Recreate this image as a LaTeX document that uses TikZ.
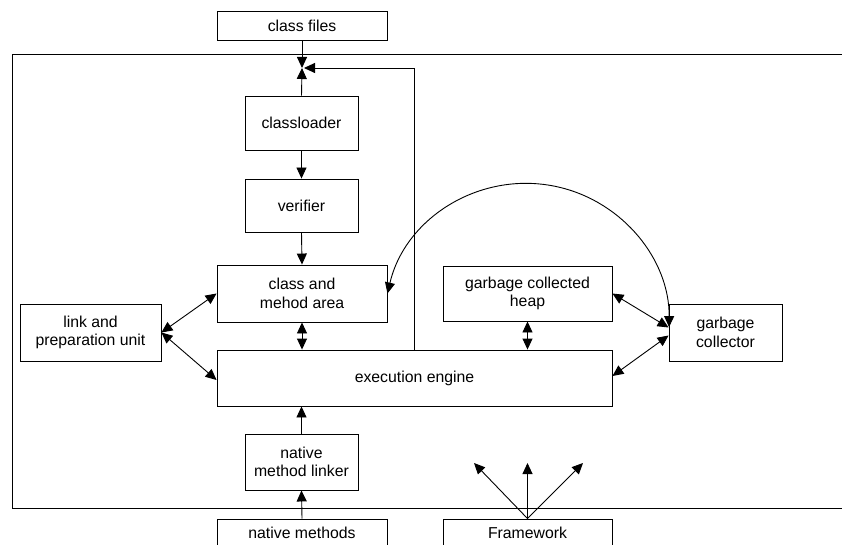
\documentclass[tikz,border=0pt]{standalone}
\usepackage{fontspec}
\setmainfont{Liberation Sans}
\usetikzlibrary{arrows.meta,calc}
\begin{document}
\begin{tikzpicture}[x=1pt,y=-1pt,
  box/.style={draw, line width=0.9pt, fill=white, inner sep=0pt, align=center,
    font=\fontsize{15.8}{18.5}\selectfont},
  line/.style={line width=0.9pt},
  arr/.style={line width=0.9pt, -{Triangle[length=11pt,width=10pt]}},
  dbl/.style={line width=0.9pt, {Triangle[length=11pt,width=10pt]}-{Triangle[length=11pt,width=10pt]}}
]
\useasboundingbox (0,0) rectangle (842,545);
\clip (0,0) rectangle (842,545);
% outer frame
\draw[line] (12,54) rectangle (880,508);
% nodes
\node[box, minimum width=170pt, minimum height=29pt] (cf) at (302,25.5) {class files};
\node[box, minimum width=113pt, minimum height=54pt] (cl) at (301.5,123) {classloader};
\node[box, minimum width=113pt, minimum height=53pt] (ver) at (301.5,205.5) {verifier};
\node[box, minimum width=170pt, minimum height=57pt] (cma) at (302,293.5) {class and\\mehod area};
\node[box, minimum width=141pt, minimum height=57pt] (lp) at (90.5,332.5) {link and\\preparation unit};
\node[box, minimum width=169pt, minimum height=55pt] (gch) at (527.5,293.5) {garbage collected\\heap};
\node[box, minimum width=113pt, minimum height=57pt] (gc) at (725.5,332.5) {garbage\\collector};
\node[box, minimum width=395pt, minimum height=56pt] (ee) at (414.5,378) {execution engine};
\node[box, minimum width=113pt, minimum height=56pt] (nml) at (301.5,462) {native\\method linker};
\node[box, minimum width=170pt, minimum height=28pt] (nm) at (302,533) {native methods};
\node[box, minimum width=169pt, minimum height=28pt] (fw) at (527.5,533) {Framework};
% junction coordinates
\coordinate (J) at (302,68);
\coordinate (Jr) at (304,68);
\coordinate (f1) at (474,463);
\coordinate (f2) at (527.5,463);
\coordinate (f3) at (583,463);
% connectors
\draw[arr] (cf.south) -- (J);
\draw[arr] (cl.north) -- (J);
\draw[arr] (ee.north) |- (Jr);
\draw[arr] (cl.south) -- (ver.north);
\draw[arr] (ver.south) -- (cma.north);
\draw[dbl] (cma.south) -- (cma.south |- ee.north);
\draw[dbl] (gch.south) -- (gch.south |- ee.north);
\draw[dbl] (lp.east) -- (cma.west);
\draw[dbl] (lp.east) -- ([yshift=-2pt]ee.west);
\draw[dbl] (gch.east) -- ([yshift=5pt]gc.west);
\draw[dbl] ([yshift=2pt]ee.east) -- ([yshift=-3pt]gc.west);
\draw[dbl] (cma.east) arc[start angle=166.8, end angle=-0.4, radius=142.7pt];
\draw[arr] (nml.north) -- (nml.north |- ee.south);
\draw[arr] (nm.north) -- (nml.south);
\draw[arr] (fw.north) -- (f1);
\draw[arr] (fw.north) -- (f2);
\draw[arr] (fw.north) -- (f3);
\end{tikzpicture}
\end{document}
